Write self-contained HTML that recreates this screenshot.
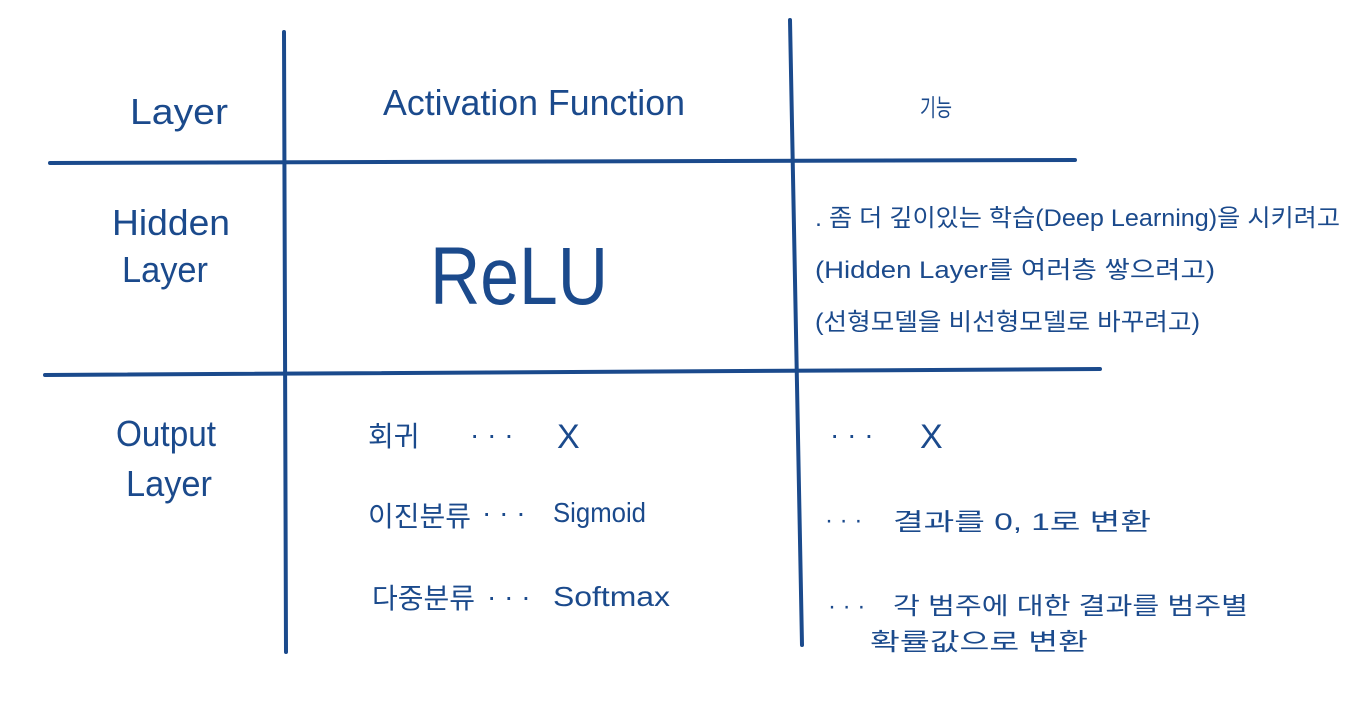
<!DOCTYPE html>
<html><head><meta charset="utf-8"><style>
body{margin:0;background:#fff;width:1346px;height:720px;overflow:hidden}
svg{display:block}
text{fill:#1b4a8c;font-family:"Liberation Sans","Noto Sans CJK KR",sans-serif}
</style></head><body>
<svg width="1346" height="720" viewBox="0 0 1346 720">
<g stroke="#1b4a8c" stroke-width="4" stroke-linecap="round" fill="none">
<path d="M284 32 L286 652"/>
<path d="M790 20 L802 645"/>
<path d="M50 163 L1075 160"/>
<path d="M45 375 L1100 369"/>
</g>
<g font-size="36">
<text x="130" y="124" textLength="98" lengthAdjust="spacingAndGlyphs">Layer</text>
<text x="383" y="115" textLength="302" lengthAdjust="spacingAndGlyphs">Activation Function</text>
<text x="112" y="235" textLength="118" lengthAdjust="spacingAndGlyphs">Hidden</text>
<text x="122" y="282" textLength="86" lengthAdjust="spacingAndGlyphs">Layer</text>
<text x="116" y="446" textLength="100" lengthAdjust="spacingAndGlyphs">Output</text>
<text x="126" y="496" textLength="86" lengthAdjust="spacingAndGlyphs">Layer</text>
</g>
<text x="920" y="116" font-size="24" textLength="32" lengthAdjust="spacingAndGlyphs">기능</text>
<text x="430" y="304" font-size="82" font-weight="300" textLength="178" lengthAdjust="spacingAndGlyphs">ReLU</text>
<g font-size="24">
<text x="815" y="226" textLength="525" lengthAdjust="spacingAndGlyphs">. 좀 더 깊이있는 학습(Deep Learning)을 시키려고</text>
<text x="815" y="278" textLength="400" lengthAdjust="spacingAndGlyphs">(Hidden Layer를 여러층 쌓으려고)</text>
<text x="815" y="330" textLength="385" lengthAdjust="spacingAndGlyphs">(선형모델을 비선형모델로 바꾸려고)</text>
</g>
<g font-size="28">
<text x="368" y="446">회귀</text><text x="470" y="444">· · ·</text><text x="557" y="448" font-size="34">X</text>
<text x="368" y="526">이진분류</text><text x="482" y="522">· · ·</text><text x="553" y="522" textLength="93" lengthAdjust="spacingAndGlyphs">Sigmoid</text>
<text x="372" y="608">다중분류</text><text x="487" y="606">· · ·</text><text x="553" y="606" textLength="117" lengthAdjust="spacingAndGlyphs">Softmax</text>
<text x="830" y="444">· · ·</text><text x="920" y="448" font-size="34">X</text>
<text x="825" y="528" font-size="24">· · ·</text><text x="893" y="530" font-size="24" textLength="258" lengthAdjust="spacingAndGlyphs">결과를  0, 1로  변환</text>
<text x="828" y="614" font-size="24">· · ·</text><text x="893" y="614" font-size="24" textLength="355" lengthAdjust="spacingAndGlyphs">각 범주에 대한  결과를  범주별</text>
<text x="870" y="650" font-size="24" textLength="218" lengthAdjust="spacingAndGlyphs">확률값으로  변환</text>
</g>
</svg>
</body></html>
